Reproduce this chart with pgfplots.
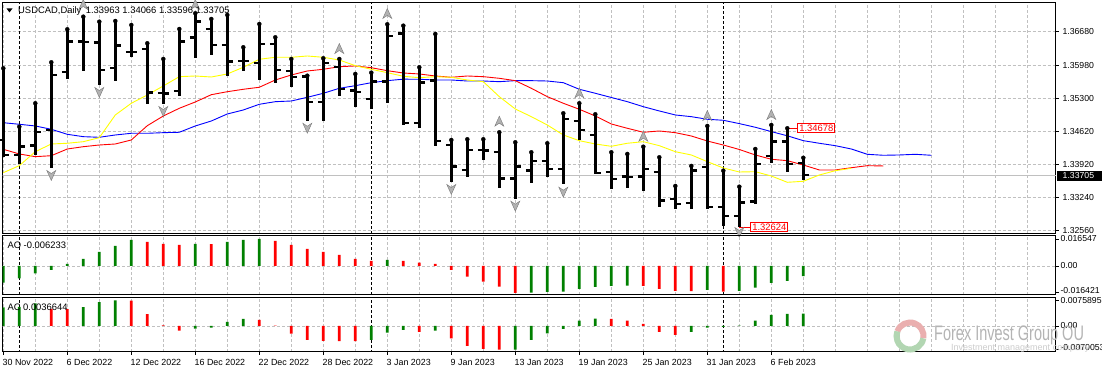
\documentclass[border=0pt]{standalone}
\usepackage{fontspec}
\setmainfont{Liberation Sans}
\usepackage{graphicx}
\usepackage{pgfplots}
\usepackage{pgfplotstable}
\pgfplotsset{compat=1.18}

\definecolor{mtgrid}{RGB}{192,192,192}
\definecolor{mtgreen}{RGB}{0,128,0}
\definecolor{mtred}{RGB}{255,0,0}
\definecolor{mtblue}{RGB}{0,0,255}
\definecolor{mtyellow}{RGB}{255,255,0}
\definecolor{fracfill}{RGB}{178,178,178}
\definecolor{fracdraw}{RGB}{120,120,120}
\definecolor{wmgray}{RGB}{180,180,180}
\definecolor{wmlight}{RGB}{205,205,205}
\definecolor{logored}{RGB}{234,175,175}
\definecolor{logogreen}{RGB}{178,214,178}

\pgfdeclareplotmark{otick}{\pgfpathmoveto{\pgfqpoint{-5.5pt}{0pt}}\pgfpathlineto{\pgfqpoint{0pt}{0pt}}\pgfusepathqstroke}
\pgfdeclareplotmark{ctick}{\pgfpathmoveto{\pgfqpoint{0pt}{0pt}}\pgfpathlineto{\pgfqpoint{5.5pt}{0pt}}\pgfusepathqstroke}
\pgfdeclareplotmark{fup}{%
  \pgfpathmoveto{\pgfqpoint{0pt}{5.5pt}}%
  \pgfpathlineto{\pgfqpoint{4.5pt}{-4.5pt}}%
  \pgfpathlineto{\pgfqpoint{0pt}{-1.5pt}}%
  \pgfpathlineto{\pgfqpoint{-4.5pt}{-4.5pt}}%
  \pgfpathclose\pgfusepathqfillstroke}
\pgfdeclareplotmark{fdown}{%
  \pgfpathmoveto{\pgfqpoint{0pt}{-5.5pt}}%
  \pgfpathlineto{\pgfqpoint{4.5pt}{4.5pt}}%
  \pgfpathlineto{\pgfqpoint{0pt}{1.5pt}}%
  \pgfpathlineto{\pgfqpoint{-4.5pt}{4.5pt}}%
  \pgfpathclose\pgfusepathqfillstroke}

\pgfplotstableread{
i O H L C
0 1.34435 1.35923 1.34089 1.34118
1 1.34118 1.34711 1.33931 1.34296
2 1.34317 1.35197 1.34124 1.34607
3 1.34643 1.36047 1.33848 1.35784
4 1.35840 1.36732 1.35695 1.36475
5 1.36475 1.36994 1.35873 1.36470
6 1.36454 1.36890 1.35576 1.35888
7 1.35929 1.36904 1.35666 1.36392
8 1.36267 1.36821 1.36164 1.36262
9 1.36317 1.36442 1.35182 1.35417
10 1.35404 1.36116 1.35176 1.35400
11 1.35452 1.36738 1.35348 1.36475
12 1.36558 1.37064 1.36143 1.36890
13 1.36738 1.36946 1.36199 1.36406
14 1.36406 1.37029 1.35769 1.36060
15 1.36074 1.36359 1.35873 1.36070
16 1.36027 1.36842 1.35680 1.36421
17 1.36421 1.36566 1.35612 1.35888
18 1.35861 1.36116 1.35541 1.35736
19 1.35753 1.35769 1.34836 1.35224
20 1.35224 1.36130 1.34836 1.36027
21 1.35944 1.36116 1.35354 1.35487
22 1.35458 1.35805 1.35126 1.35425
23 1.35280 1.35832 1.35085 1.35645
24 1.35645 1.36836 1.35209 1.36599
25 1.36641 1.36807 1.34746 1.34782
26 1.34782 1.35944 1.34690 1.35624
27 1.35666 1.36635 1.34317 1.34414
28 1.34331 1.34435 1.33570 1.33881
29 1.33813 1.34450 1.33674 1.34228
30 1.34228 1.34450 1.34020 1.34213
31 1.34192 1.34595 1.33445 1.33632
32 1.33632 1.34387 1.33211 1.33881
33 1.33798 1.34180 1.33537 1.33999
34 1.33999 1.34367 1.33674 1.33833
35 1.33833 1.34989 1.33516 1.34865
36 1.34829 1.35197 1.34435 1.34643
37 1.34539 1.34968 1.33730 1.33744
38 1.33777 1.34180 1.33412 1.33626
39 1.33674 1.34145 1.33445 1.33661
40 1.33674 1.34296 1.33383 1.33833
41 1.33777 1.34076 1.33039 1.33176
42 1.33205 1.33481 1.32997 1.33107
43 1.33122 1.33896 1.32997 1.33798
44 1.33869 1.34726 1.32997 1.33039
45 1.33039 1.33798 1.32660 1.32858
46 1.32858 1.33466 1.32624 1.33134
47 1.33155 1.34248 1.33107 1.33937
48 1.34109 1.34746 1.33964 1.34400
49 1.34400 1.34678 1.33777 1.33931
50 1.33963 1.34066 1.33596 1.33705
}\ohlc

\pgfplotstableread{
i v
0 1.34794
1 1.34761
2 1.34726
3 1.34657
4 1.34553
5 1.34504
6 1.34491
7 1.34539
8 1.34574
9 1.34574
10 1.34587
11 1.34595
12 1.34726
13 1.34829
14 1.34975
15 1.35058
16 1.35176
17 1.35230
18 1.35244
19 1.35321
20 1.35404
21 1.35508
22 1.35562
23 1.35624
24 1.35666
25 1.35697
26 1.35695
27 1.35680
28 1.35680
29 1.35659
30 1.35659
31 1.35645
32 1.35666
33 1.35666
34 1.35659
35 1.35624
36 1.35487
37 1.35404
38 1.35317
39 1.35230
40 1.35126
41 1.35037
42 1.34954
43 1.34919
44 1.34865
45 1.34844
46 1.34775
47 1.34699
48 1.34609
49 1.34522
50 1.34421
51 1.34367
52 1.34317
53 1.34248
54 1.34138
55 1.34118
56 1.34124
57 1.34138
58 1.34118
}\jaw

\pgfplotstableread{
i v
0 1.34242
1 1.34145
2 1.34089
3 1.34109
4 1.34248
5 1.34296
6 1.34331
7 1.34352
8 1.34435
9 1.34732
10 1.34933
11 1.35093
12 1.35224
13 1.35375
14 1.35437
15 1.35487
16 1.35529
17 1.35680
18 1.35784
19 1.35867
20 1.35902
21 1.35956
22 1.35971
23 1.35935
24 1.35873
25 1.35825
26 1.35805
27 1.35763
28 1.35736
29 1.35763
30 1.35749
31 1.35715
32 1.35666
33 1.35508
34 1.35334
35 1.35197
36 1.35072
37 1.34933
38 1.34767
39 1.34678
40 1.34595
41 1.34622
42 1.34587
43 1.34518
44 1.34414
45 1.34331
46 1.34238
47 1.34124
48 1.34035
49 1.34006
50 1.33916
51 1.33813
52 1.33813
53 1.33860
54 1.33902
55 1.33896
}\teeth

\pgfplotstableread{
i v
0 1.33757
1 1.33902
2 1.34192
3 1.34352
4 1.34367
5 1.34400
6 1.34483
7 1.34954
8 1.35197
9 1.35369
10 1.35556
11 1.35749
12 1.35763
13 1.35742
14 1.35805
15 1.35944
16 1.36110
17 1.36151
18 1.36151
19 1.36178
20 1.36151
21 1.36095
22 1.35977
23 1.35902
24 1.35832
25 1.35757
26 1.35728
27 1.35749
28 1.35736
29 1.35680
30 1.35645
31 1.35334
32 1.35078
33 1.34919
34 1.34746
35 1.34539
36 1.34421
37 1.34352
38 1.34304
39 1.34367
40 1.34400
41 1.34317
42 1.34192
43 1.34124
44 1.33985
45 1.33854
46 1.33771
47 1.33777
48 1.33688
49 1.33557
50 1.33578
51 1.33709
52 1.33798
53 1.33848
}\lips

\pgfplotstableread{
i v
5 1.37236
12 1.37236
21 1.36323
24 1.37050
31 1.34815
36 1.35404
40 1.34503
44 1.34933
48 1.34954
}\fracup

\pgfplotstableread{
i v
3 1.33709
6 1.35431
10 1.35037
19 1.34690
28 1.33418
32 1.33072
35 1.33362
46 1.32526
}\fracdn

\pgfplotstableread{
i v
0 -0.0102
1 -0.00755
2 -0.00449
3 -0.00245
4 0.00122
5 0.00428
6 0.00857
7 0.01224
8 0.01591
12 0.01346
14 0.01469
15 0.01591
16 0.016547
24 0.00367
33 -0.01638
34 -0.01590
35 -0.01570
36 -0.01408
37 -0.01285
38 -0.01224
39 -0.01200
44 -0.01469
46 -0.01530
47 -0.01326
48 -0.01040
49 -0.00918
50 -0.006233
}\aogreen

\pgfplotstableread{
i v
9 0.01469
10 0.01346
11 0.01285
13 0.01340
17 0.01530
18 0.01285
19 0.01040
20 0.00857
21 0.00673
22 0.00428
23 0.00306
25 0.00306
26 0.00204
27 0.00122
28 -0.00245
29 -0.00653
30 -0.00960
31 -0.01265
32 -0.016421
40 -0.01210
41 -0.01408
42 -0.01530
43 -0.01535
45 -0.01570
}\aored

\pgfplotstableread{
i v
0 0.00554
1 0.00570
2 0.00670
5 0.00562
6 0.00710
7 0.0075895
12 -0.00080
13 -0.00050
14 0.00118
15 0.00207
23 -0.00414
24 -0.00198
25 -0.00118
27 -0.00138
32 -0.00700
33 -0.00415
34 -0.00217
35 -0.00089
36 0.00158
37 0.00217
43 -0.00178
44 -0.00050
45 -0.00030
46 0.00010
47 0.00158
48 0.00326
49 0.00356
50 0.0036644
}\acgreen

\pgfplotstableread{
i v
3 0.00510
4 0.00503
8 0.00755
9 0.00355
10 0.00020
11 -0.00139
16 0.00178
17 0.00012
18 -0.00228
19 -0.00414
20 -0.00444
21 -0.00447
22 -0.00452
26 -0.00178
28 -0.00365
29 -0.00592
30 -0.00680
31 -0.0070053
38 0.00210
39 0.00158
40 0.00059
41 -0.00178
42 -0.00267
}\acred

\pgfplotsset{
  mtbase/.style={
    scale only axis, width=1053.5pt,
    xmin=-0.05, xmax=65.79,
    axis line style={black, line width=1pt},
    tick style={black, line width=0.8pt},
    major tick length=3pt, minor tick length=0pt,
    tick align=outside,
    ytick pos=right, yticklabel pos=right,
    xmajorgrids,
    major grid style={mtgrid, dash pattern=on 3pt off 2pt, line width=0.8pt},
    minor grid style={mtgrid, dash pattern=on 3pt off 2pt, line width=0.8pt},
    tick label style={font=\fontsize{8.7}{10}\selectfont},
    scaled y ticks=false,
  },
  sep/.style={black, line width=0.8pt, dash pattern=on 3pt off 2pt, forget plot},
  zl/.style={mtgrid, dash pattern=on 3pt off 2pt, line width=0.8pt, forget plot},
  hist/.style={ybar, bar width=2.8pt, bar shift=0pt, draw=none, forget plot},
}

\begin{document}
\begin{tikzpicture}[x=1pt,y=1pt]
\useasboundingbox (0,0) rectangle (1102,373);
\fill[white] (0,0) rectangle (1102,373);

% ---------------- main price panel
\begin{axis}[mtbase, at={(2.5pt,140pt)}, anchor=south west, height=230.5pt,
  ymin=1.32505, ymax=1.37288,
  xtick={0,2,...,64}, xticklabels={}, xtick style={draw=none},
  ytick={1.32560,1.33240,1.33920,1.34620,1.35300,1.35980,1.36680},
  yticklabels={1.32560,1.33240,1.33920,1.34620,1.35300,1.35980,1.36680},
  ymajorgrids,
]
\addplot[mtgrid, line width=1pt, forget plot] coordinates {(-1,1.33705) (70,1.33705)};
\addplot[sep] coordinates {(1,1.3) (1,1.4)};
\addplot[sep] coordinates {(23,1.3) (23,1.4)};
\addplot[sep] coordinates {(45,1.3) (45,1.4)};
\addplot[mtblue, line width=0.9pt, forget plot] table[x=i,y=v] {\jaw};
\addplot[mtred, line width=0.9pt, forget plot] table[x=i,y=v] {\teeth};
\addplot[mtyellow, line width=0.9pt, forget plot] table[x=i,y=v] {\lips};
\addplot[only marks, mark=none, forget plot,
  error bars/.cd, y dir=minus, y explicit, error mark=none,
  error bar style={draw=black, line width=2.6pt}]
  table[x=i, y=H, y error minus expr=\thisrow{H}-\thisrow{L}] {\ohlc};
\addplot[only marks, mark=otick, mark options={draw=black, line width=2.4pt}, forget plot] table[x=i,y=O] {\ohlc};
\addplot[only marks, mark=ctick, mark options={draw=black, line width=2.4pt}, forget plot] table[x=i,y=C] {\ohlc};
\addplot[only marks, mark=fup, mark options={fill=fracfill, draw=fracdraw, line width=0.4pt}, forget plot] table[x=i,y=v] {\fracup};
\addplot[only marks, mark=fdown, mark options={fill=fracfill, draw=fracdraw, line width=0.4pt}, forget plot] table[x=i,y=v] {\fracdn};
\draw[mtred, line width=1pt] (axis cs:49,1.34678) -- ++(10pt,0pt)
  node[anchor=west, draw=mtred, fill=white, text=mtred, line width=1pt, inner xsep=1.5pt, inner ysep=1pt, font=\fontsize{9.4}{10}\selectfont] {1.34678};
\draw[mtred, line width=1pt] (axis cs:46,1.32624) -- ++(11pt,0pt)
  node[anchor=west, draw=mtred, fill=white, text=mtred, line width=1pt, inner xsep=1.5pt, inner ysep=1pt, font=\fontsize{9.4}{10}\selectfont] {1.32624};
\end{axis}

% ---------------- AO panel
\begin{axis}[mtbase, at={(2.5pt,78pt)}, anchor=south west, height=59pt,
  ymin=-0.01775, ymax=0.01836,
  xtick={0,2,...,64}, xticklabels={}, xtick style={draw=none},
  ytick={-0.016421,0,0.016547},
  yticklabels={{\raisebox{4.3pt}{-0.016421}},{0.00},{\raisebox{-4pt}{0.016547}}},
  yticklabel style={xshift=-2pt},
]
\addplot[zl] coordinates {(-1,0) (70,0)};
\addplot[sep] coordinates {(1,-1) (1,1)};
\addplot[sep] coordinates {(23,-1) (23,1)};
\addplot[sep] coordinates {(45,-1) (45,1)};
\addplot[hist, fill=mtgreen] table[x=i,y=v] {\aogreen};
\addplot[hist, fill=mtred] table[x=i,y=v] {\aored};
\end{axis}

% ---------------- AC panel
\begin{axis}[mtbase, at={(2.5pt,21.3pt)}, anchor=south west, height=53.7pt,
  ymin=-0.007633, ymax=0.008316,
  xtick={0,4,...,48},
  xticklabels={30 Nov 2022,6 Dec 2022,12 Dec 2022,16 Dec 2022,22 Dec 2022,28 Dec 2022,3 Jan 2023,9 Jan 2023,13 Jan 2023,19 Jan 2023,25 Jan 2023,31 Jan 2023,6 Feb 2023},
  minor xtick={2,6,10,14,18,22,26,30,34,38,42,46,50,52,54,56,58,60,62,64},
  xminorgrids, xtick pos=left,
  xticklabel style={anchor=north west, inner sep=0pt, xshift=-0.8pt, yshift=-4.5pt, font=\fontsize{8.9}{10}\selectfont},
  ytick={-0.0070053,0,0.0075895},
  yticklabels={{\raisebox{3.6pt}{-0.0070053}},{0.00},{\raisebox{-3.6pt}{0.0075895}}},
  yticklabel style={xshift=-2pt},
]
\addplot[zl] coordinates {(-1,0) (70,0)};
\addplot[sep] coordinates {(1,-1) (1,1)};
\addplot[sep] coordinates {(23,-1) (23,1)};
\addplot[sep] coordinates {(45,-1) (45,1)};
\addplot[hist, fill=mtgreen] table[x=i,y=v] {\acgreen};
\addplot[hist, fill=mtred] table[x=i,y=v] {\acred};
\end{axis}

% ---------------- texts
\fill[black] (6.5,364.5) -- (12.5,364.5) -- (9.5,360.5) -- cycle;
\node[anchor=base west, inner sep=0pt, font=\fontsize{9.4}{11}\selectfont] at (18,359.6)
  {USDCAD,Daily\hspace{4.5pt}1.33963 1.34066 1.33596 1.33705};
\node[anchor=base west, inner sep=0pt, font=\fontsize{9.4}{11}\selectfont] at (7.3,125) {AO -0.006233};
\node[anchor=base west, inner sep=0pt, font=\fontsize{9.4}{11}\selectfont] at (7.3,63) {AC 0.0036644};

\fill[black] (1057,192.5) rectangle (1102,202.5);
\node[anchor=base west, inner sep=0pt, text=white, font=\fontsize{8.7}{10}\selectfont] at (1062.5,194.4) {1.33705};

% watermark
\draw[logored, line width=6pt] (910,37) ++(160:13.5) arc[start angle=160, end angle=-10, radius=13.5];
\draw[logogreen, line width=6pt] (910,37) ++(-10:13.5) arc[start angle=-10, end angle=-200, radius=13.5];
\node[anchor=base west, inner sep=0pt, text=wmgray, font=\fontsize{21}{22}\selectfont] at (934,33)
  {\scalebox{0.69}[1]{Forex Invest Group OU}};
\node[anchor=base west, inner sep=0pt, text=wmlight, font=\fontsize{9}{10}\selectfont] at (951,22.3)
  {Investment management company};
\end{tikzpicture}
\end{document}
